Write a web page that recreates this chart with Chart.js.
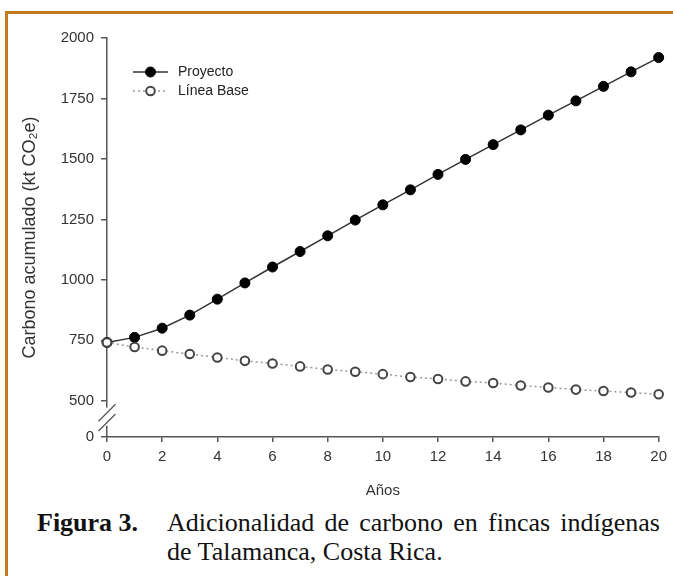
<!DOCTYPE html>
<html>
<head>
<meta charset="utf-8">
<title>Adicionalidad de carbono</title>
<script src="https://cdn.jsdelivr.net/npm/chart.js@4/dist/chart.umd.min.js"></script>
<style>
  html, body { margin: 0; padding: 0; background: #fff; }
  #page { position: relative; width: 673px; height: 576px; overflow: hidden; }
  #frame {
    position: absolute; left: 5px; top: 11px; right: 0; bottom: 0;
    border-top: 3px solid #bf7b1c; border-left: 3px solid #bf7b1c;
  }
  #wrap { position: absolute; left: 0; top: 0; width: 673px; height: 505px; }
  .cap { position: absolute; font-family: "Liberation Serif", "Times New Roman", serif; font-size: 26px; color: #111; line-height: 29px; }
  #cap-label { left: 37px; top: 508px; font-weight: bold; }
  #cap-text { left: 167px; top: 508px; width: 493px; }
  #cap-text .l1 { text-align: justify; text-align-last: justify; }
</style>
</head>
<body>
<div id="page">
  <div id="frame"></div>
  <div id="wrap"><canvas id="chart" width="673" height="505"></canvas></div>
  <div class="cap" id="cap-label">Figura 3.</div>
  <div class="cap" id="cap-text">
    <div class="l1">Adicionalidad de carbono en fincas indígenas</div>
    <div>de Talamanca, Costa Rica.</div>
  </div>
</div>

<script>
/* ── Datos ── */
const years     = [0, 1, 2, 3, 4, 5, 6, 7, 8, 9, 10, 11, 12, 13, 14, 15, 16, 17, 18, 19, 20];
const proyecto  = [741, 762, 800, 854, 920, 987, 1053, 1117, 1182, 1247, 1310, 1372, 1436, 1498, 1559, 1620, 1681, 1740, 1800, 1860, 1919];
const lineaBase = [741, 722, 707, 693, 679, 665, 654, 642, 629, 620, 610, 598, 590, 580, 573, 563, 555, 546, 540, 534, 527];
const yTicks    = [500, 750, 1000, 1250, 1500, 1750, 2000];
const yFloor    = 350;   // fondo del eje cortado, se rotula como 0
const seriesNames = ['Proyecto', 'Línea Base'];

const FONT = '"Liberation Sans", Arial, sans-serif';
const AXIS = '#555';
const TEXT = '#333';

// ── Corte del eje Y (//) ──
const axisBreak = {
  id: 'axisBreak',
  afterDraw(chart) {
    const y  = chart.scales.y;
    const ax = chart.chartArea.left;
    const yA = y.getPixelForValue(yTicks[0]);
    const yB = y.bottom;
    const h  = yB - yA;
    const ctx = chart.ctx;
    ctx.save();
    ctx.fillStyle = '#fff';
    ctx.fillRect(ax - 3, yA + h * 0.19, 6, h * 0.5);
    ctx.strokeStyle = AXIS;
    ctx.lineWidth = 1.3;
    [0.33, 0.6].forEach(f => {
      const c = yA + h * f;
      ctx.beginPath();
      ctx.moveTo(ax - 8.5, c + 8.5);
      ctx.lineTo(ax + 8.5, c - 8.5);
      ctx.stroke();
    });
    ctx.restore();
  }
};

// ── Leyenda (línea + marcador) ──
const lineLegend = {
  id: 'lineLegend',
  afterDatasetsDraw(chart) {
    const ctx = chart.ctx;
    const x0 = chart.chartArea.left + 26;
    const y0 = chart.chartArea.top + 34;
    ctx.save();
    chart.data.datasets.forEach((ds, i) => {
      const yy = y0 + i * 19;
      ctx.strokeStyle = ds.borderColor;
      ctx.lineWidth = ds.borderWidth;
      ctx.setLineDash(ds.borderDash || []);
      ctx.beginPath();
      ctx.moveTo(x0, yy);
      ctx.lineTo(x0 + 35, yy);
      ctx.stroke();
      ctx.setLineDash([]);
      ctx.beginPath();
      ctx.arc(x0 + 17.5, yy, ds.pointRadius, 0, Math.PI * 2);
      ctx.fillStyle = ds.pointBackgroundColor;
      ctx.fill();
      ctx.lineWidth = ds.pointBorderWidth;
      ctx.strokeStyle = ds.pointBorderColor;
      ctx.stroke();
      ctx.fillStyle = '#222';
      ctx.font = '14px ' + FONT;
      ctx.textBaseline = 'middle';
      ctx.fillText(ds.label, x0 + 45, yy);
    });
    ctx.restore();
  }
};

new Chart(document.getElementById('chart'), {
  type: 'line',
  data: {
    datasets: [
      {
        label: seriesNames[0],
        data: years.map((x, i) => ({ x, y: proyecto[i] })),
        borderColor: '#333',
        borderWidth: 1.5,
        pointRadius: 5,
        pointBackgroundColor: '#000',
        pointBorderColor: '#000',
        pointBorderWidth: 1,
        order: 1,
        clip: false,
      },
      {
        label: seriesNames[1],
        data: years.map((x, i) => ({ x, y: lineaBase[i] })),
        borderColor: '#999',
        borderWidth: 1.5,
        borderDash: [2, 3],
        pointRadius: 4.3,
        pointBackgroundColor: '#fff',
        pointBorderColor: '#444',
        pointBorderWidth: 2,
        order: 0,
        clip: false,
      },
    ],
  },
  options: {
    responsive: false,
    animation: false,
    devicePixelRatio: 1,
    layout: { padding: { top: 38, right: 13, left: 0, bottom: 0 } },
    plugins: { legend: { display: false }, tooltip: { enabled: false } },
    scales: {
      x: {
        type: 'linear',
        min: 0,
        max: 20,
        afterFit: s => { s.height = 68; },
        ticks: { stepSize: 2, color: TEXT, font: { family: FONT, size: 15 }, padding: 6 },
        grid: { drawOnChartArea: false, drawTicks: true, tickLength: 5, color: AXIS, lineWidth: 1.5 },
        border: { color: AXIS, width: 1.5 },
        title: { display: true, text: 'Años', color: TEXT, font: { family: FONT, size: 15 }, padding: { top: 4, bottom: 5 } },
      },
      y: {
        type: 'linear',
        min: yFloor,
        max: 2000,
        afterFit: s => { s.width = 107; },
        afterBuildTicks: s => { s.ticks = [yFloor, ...yTicks].map(v => ({ value: v })); },
        ticks: { color: TEXT, font: { family: FONT, size: 15 }, padding: 7, callback: v => v === yFloor ? '0' : v },
        grid: { drawOnChartArea: false, drawTicks: true, tickLength: 6, color: AXIS, lineWidth: 1.5 },
        border: { color: AXIS, width: 1.5 },
        title: { display: true, text: 'Carbono acumulado (kt CO₂e)', color: TEXT, font: { family: FONT, size: 18 }, padding: { top: 19, bottom: 4 } },
      },
    },
  },
  plugins: [axisBreak, lineLegend],
});
</script>
</body>
</html>
